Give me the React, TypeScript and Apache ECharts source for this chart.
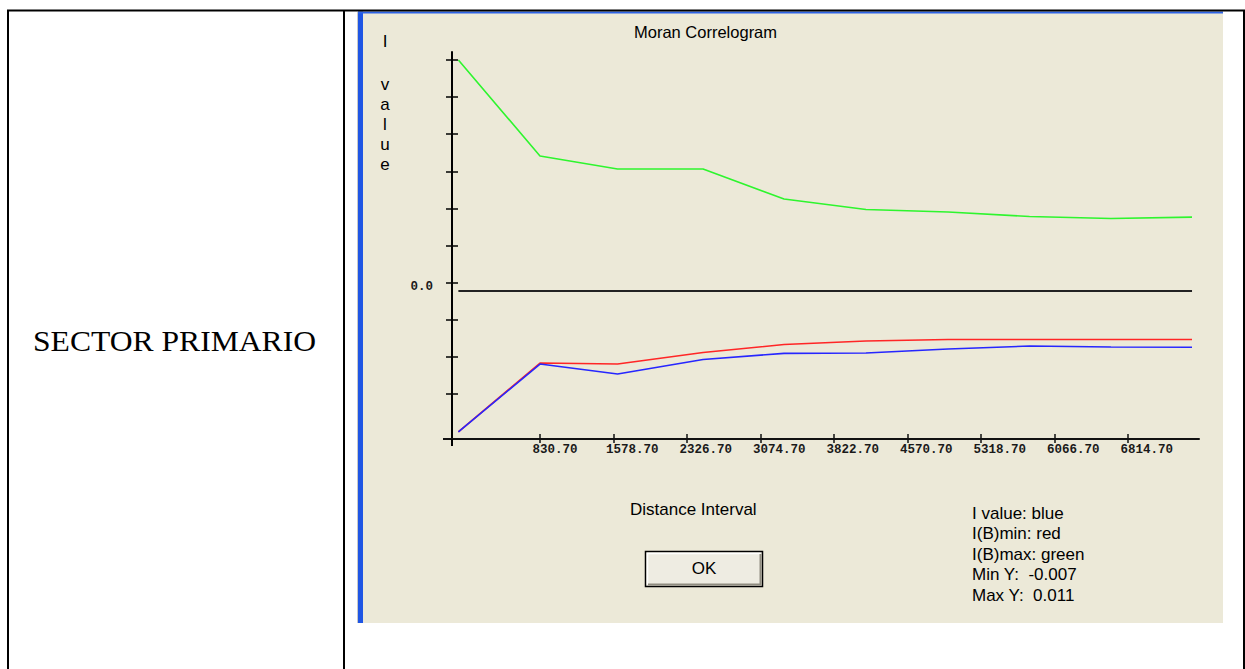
import React, { useEffect, useRef } from "react";
import * as echarts from "echarts";

// ---- data ----
const distances = [0, 830.7, 1620, 2490, 3314, 4148, 4983, 5812, 6641, 7466];
const iValue = [-0.00671, -0.00348, -0.00395, -0.00326, -0.00297, -0.00295, -0.00276, -0.00262, -0.00267, -0.00268];
const iBMin = [-0.00671, -0.00343, -0.00348, -0.00293, -0.00255, -0.00238, -0.00231, -0.00231, -0.00231, -0.00231];
const iBMax = [0.011, 0.00643, 0.00581, 0.00581, 0.00438, 0.00388, 0.00376, 0.00355, 0.00345, 0.00352];
const zeroLine = [0, 0];

const xTickValues = [830.7, 1578.7, 2326.7, 3074.7, 3822.7, 4570.7, 5318.7, 6066.7, 6814.7];
const xTickLabels = ["830.70", "1578.70", "2326.70", "3074.70", "3822.70", "4570.70", "5318.70", "6066.70", "6814.70"];
const yTickValues = [0.011, 0.00924, 0.00748, 0.00567, 0.0039, 0.00214, 0.00038, -0.00138, -0.00314, -0.0049];
const yLabelValues = [0.0002];
const yLabelTexts = ["0.0"];

const xMin = -65;
const xMax = 7537;
const yMin = -0.007048;
const yMax = 0.011381;

const titleText = "Moran Correlogram";
const xAxisTitle = "Distance Interval";
const rowLabel = "SECTOR PRIMARIO";
const legendLines = [
  "I value: blue",
  "I(B)min: red",
  "I(B)max: green",
  "Min Y:  " + Math.min(...iValue).toFixed(3),
  "Max Y:  " + Math.max(...iBMax).toFixed(3),
];

const SANS = "'Liberation Sans', Arial, sans-serif";
const MONO = "'Liberation Mono', 'DejaVu Sans Mono', monospace";

export default function App() {
  const ref = useRef<HTMLDivElement>(null);

  useEffect(() => {
    if (!ref.current) return;
    const chart = echarts.init(ref.current, null, { renderer: "svg" });

    const gridLeft = 452;
    const gridTop = 52;
    const gridWidth = 747;
    const gridHeight = 387;
    const unitsPerPx = (xMax - xMin) / gridWidth;
    const xLabelValues = xTickValues.map((v) => v - 7.5 * unitsPerPx);

    const lineSeries = (name: string, ys: number[], color: string, width: number) => ({
      name,
      type: "line",
      xAxisIndex: 0,
      yAxisIndex: 0,
      data: distances.map((d, i) => [d, ys[i]]),
      showSymbol: false,
      symbol: "none",
      lineStyle: { color, width },
      itemStyle: { color },
      z: 3,
    });

    const option: any = {
      animation: false,
      backgroundColor: "#ffffff",
      grid: { left: gridLeft, top: gridTop, width: gridWidth, height: gridHeight },
      xAxis: [
        {
          type: "value",
          min: xMin,
          max: xMax,
          position: "bottom",
          splitLine: { show: false },
          axisLine: { show: true, onZero: false, lineStyle: { color: "#111", width: 2 } },
          axisTick: {
            show: true,
            customValues: xTickValues,
            inside: false,
            length: 4,
            lineStyle: { color: "#111", width: 1.5 },
          },
          axisLabel: {
            show: true,
            customValues: xLabelValues,
            align: "left",
            verticalAlign: "top",
            margin: 4,
            fontFamily: MONO,
            fontSize: 12.5,
            fontWeight: "bold",
            color: "#1a1a1a",
            formatter: (v: number) => {
              const idx = xLabelValues.findIndex((l) => Math.abs(l - v) < 1);
              return idx >= 0 ? xTickLabels[idx] : "";
            },
          },
        },
        {
          type: "value",
          min: xMin,
          max: xMax,
          position: "bottom",
          offset: 0,
          splitLine: { show: false },
          axisLine: { show: false, onZero: false },
          axisTick: {
            show: true,
            customValues: xTickValues,
            inside: true,
            length: 5,
            lineStyle: { color: "#111", width: 1.5 },
          },
          axisLabel: { show: false },
        },
      ],
      yAxis: [
        {
          type: "value",
          min: yMin,
          max: yMax,
          position: "left",
          splitLine: { show: false },
          axisLine: { show: true, onZero: false, lineStyle: { color: "#000", width: 2 } },
          axisTick: {
            show: true,
            customValues: yTickValues,
            inside: false,
            length: 6,
            lineStyle: { color: "#000", width: 1.5 },
          },
          axisLabel: {
            show: true,
            customValues: yLabelValues,
            margin: 19,
            fontFamily: MONO,
            fontSize: 12.5,
            fontWeight: "bold",
            color: "#1a1a1a",
            formatter: (v: number) => {
              const idx = yLabelValues.findIndex((l) => Math.abs(l - v) < 1e-7);
              return idx >= 0 ? yLabelTexts[idx] : "";
            },
          },
        },
        {
          type: "value",
          min: yMin,
          max: yMax,
          position: "left",
          offset: 0,
          splitLine: { show: false },
          axisLine: { show: false, onZero: false },
          axisTick: {
            show: true,
            customValues: yTickValues,
            inside: true,
            length: 6,
            lineStyle: { color: "#000", width: 1.5 },
          },
          axisLabel: { show: false },
        },
      ],
      series: [
        {
          name: "zero",
          type: "line",
          xAxisIndex: 0,
          yAxisIndex: 0,
          data: [
            [distances[0], zeroLine[0]],
            [distances[distances.length - 1], zeroLine[1]],
          ],
          symbol: "none",
          lineStyle: { color: "#222", width: 2 },
          z: 2,
        },
        lineSeries("I(B)max", iBMax, "#2ef52e", 1.6),
        lineSeries("I(B)min", iBMin, "#ff2626", 1.6),
        lineSeries("I value", iValue, "#2626ff", 1.6),
      ],
      graphic: [
        // application panel
        { type: "rect", z: -20, shape: { x: 358, y: 11.5, width: 865, height: 611.5 }, style: { fill: "#ECE9D8" } },
        { type: "rect", z: -19, shape: { x: 358, y: 11.5, width: 5, height: 611.5 }, style: { fill: "#1F56E4" } },
        { type: "rect", z: -19, shape: { x: 358, y: 11.5, width: 865, height: 2 }, style: { fill: "#2D63E6" } },
        { type: "line", z: -19, shape: { x1: 357.5, y1: 12, x2: 357.5, y2: 623 }, style: { stroke: "#c8c8c8", lineWidth: 1 } },
        // table borders
        { type: "line", z: 20, shape: { x1: 7, y1: 10.5, x2: 1245, y2: 10.5 }, style: { stroke: "#000", lineWidth: 2 } },
        { type: "line", z: 20, shape: { x1: 8, y1: 10, x2: 8, y2: 669 }, style: { stroke: "#000", lineWidth: 2 } },
        { type: "line", z: 20, shape: { x1: 344, y1: 10, x2: 344, y2: 669 }, style: { stroke: "#000", lineWidth: 2 } },
        { type: "line", z: 20, shape: { x1: 1244, y1: 10, x2: 1244, y2: 669 }, style: { stroke: "#000", lineWidth: 2 } },
        // axis crossing extensions
        { type: "line", z: 5, shape: { x1: 443, y1: 439, x2: 452, y2: 439 }, style: { stroke: "#111", lineWidth: 2 } },
        { type: "line", z: 5, shape: { x1: 452, y1: 439, x2: 452, y2: 446 }, style: { stroke: "#000", lineWidth: 2 } },
        // row label
        {
          type: "text",
          z: 10,
          x: 33,
          y: 341,
          scaleX: 1.09,
          style: {
            text: rowLabel,
            fill: "#000",
            fontSize: 29,
            fontFamily: "'Liberation Serif', 'Times New Roman', serif",
            align: "left",
            verticalAlign: "middle",
          },
        },
        // title
        {
          type: "text",
          z: 10,
          x: 634,
          y: 32,
          style: { text: titleText, fill: "#000", fontSize: 16.5, fontFamily: SANS, align: "left", verticalAlign: "middle" },
        },
        // vertical y label
        {
          type: "text",
          z: 10,
          x: 385,
          y: 41,
          style: { text: "I", fill: "#000", fontSize: 17, fontFamily: SANS, align: "center", verticalAlign: "middle" },
        },
        {
          type: "text",
          z: 10,
          x: 385,
          y: 74,
          style: {
            text: "v\na\nl\nu\ne",
            fill: "#000",
            fontSize: 17,
            lineHeight: 20,
            fontFamily: SANS,
            align: "center",
            verticalAlign: "top",
          },
        },
        // x axis title
        {
          type: "text",
          z: 10,
          x: 630,
          y: 509,
          style: { text: xAxisTitle, fill: "#000", fontSize: 17, fontFamily: SANS, align: "left", verticalAlign: "middle" },
        },
        // legend lines
        ...legendLines.map((t, i) => ({
          type: "text",
          z: 10,
          x: 972,
          y: 513 + i * 20.5,
          style: { text: t, fill: "#000", fontSize: 17, fontFamily: SANS, align: "left", verticalAlign: "middle" },
        })),
        // OK button
        {
          type: "rect",
          z: 5,
          shape: { x: 645.5, y: 551.5, width: 117, height: 35 },
          style: { fill: "#EEECE2", stroke: "#000", lineWidth: 1.5 },
        },
        {
          type: "polyline",
          z: 6,
          shape: { points: [[647.5, 584.5], [647.5, 553.5], [760.5, 553.5]] },
          style: { stroke: "#ffffff", lineWidth: 1.5, fill: "none" },
        },
        {
          type: "polyline",
          z: 6,
          shape: { points: [[648, 584.5], [760.5, 584.5], [760.5, 554]] },
          style: { stroke: "#8f8c80", lineWidth: 2, fill: "none" },
        },
        {
          type: "text",
          z: 10,
          x: 704,
          y: 568,
          style: { text: "OK", fill: "#000", fontSize: 17, fontFamily: SANS, align: "center", verticalAlign: "middle" },
        },
      ],
    };

    chart.setOption(option);
    return () => chart.dispose();
  }, []);

  return (
    <div
      ref={ref}
      style={{ position: "absolute", left: 0, top: 0, width: 1245, height: 669, background: "#fff" }}
    />
  );
}
